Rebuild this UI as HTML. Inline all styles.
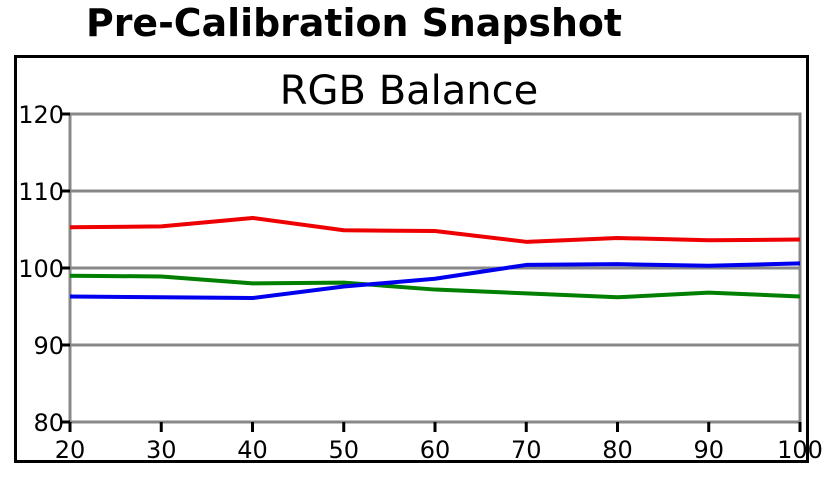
<!DOCTYPE html>
<html><head><meta charset="utf-8"><style>
body{margin:0;background:#fff;width:826px;height:479px;overflow:hidden}
svg text{font-family:"DejaVu Sans","Liberation Sans",sans-serif}
</style></head><body>
<svg width="826" height="479">
<text x="86" y="36" font-size="38" font-weight="bold" textLength="536" lengthAdjust="spacingAndGlyphs">Pre-Calibration Snapshot</text>
<rect x="15.5" y="56.5" width="792" height="405" fill="none" stroke="#000" stroke-width="3"/>
<text x="409" y="104" font-size="40" text-anchor="middle">RGB Balance</text>
<g id="grid"></g><g id="axes"></g><g id="series"></g>
</svg>
<script>
const xCats=[20,30,40,50,60,70,80,90,100];
const yTicks=[80,90,100,110,120];
const redVals=[105.3,105.4,106.5,104.9,104.8,103.4,103.9,103.6,103.7];
const greenVals=[99,98.9,98,98.1,97.2,96.7,96.2,96.8,96.3];
const blueVals=[96.3,96.2,96.1,97.6,98.6,100.4,100.5,100.3,100.6];
const NS="http://www.w3.org/2000/svg";
const X0=70,X1=800,Y0=422,Y1=114;
function sx(v){return X0+(v-20)/(100-20)*(X1-X0);}
function sy(v){return Y0-(v-80)/(120-80)*(Y0-Y1);}
function mk(t,a,p){const e=document.createElementNS(NS,t);for(const k in a)e.setAttribute(k,a[k]);p.appendChild(e);return e;}
const grid=document.getElementById('grid'),axes=document.getElementById('axes'),ser=document.getElementById('series');
yTicks.forEach(v=>{
 const l=mk('line',{x1:X0,x2:X1,y1:sy(v),y2:sy(v),stroke:'#888','stroke-width':3},grid);
 
 
 const tk=mk('line',{x1:X0-8,x2:X0,y1:sy(v),y2:sy(v),stroke:'#000','stroke-width':3},axes);
 
 
 const t=mk('text',{x:X0-6,y:sy(v)+9,'font-size':24,'text-anchor':'end'},axes);
 t.textContent=v;
 
 
});
const b=mk('rect',{x:X0,y:Y1,width:X1-X0,height:Y0-Y1,fill:'none',stroke:'#888','stroke-width':3},grid);


xCats.forEach(v=>{
 const tk=mk('line',{x1:sx(v),x2:sx(v),y1:Y0,y2:Y0+10,stroke:'#000','stroke-width':3},axes);
 
 
 const t=mk('text',{x:sx(v),y:Y0+36,'font-size':24,'text-anchor':'middle'},axes);
 t.textContent=v;
 
 
});
[[greenVals,'#007f00','green'],[blueVals,'#0000ee','blue'],[redVals,'#ee0000','red']].forEach(([vals,c,n])=>{
 const p=mk('polyline',{points:vals.map((v,i)=>sx(xCats[i])+','+sy(v)).join(' '),fill:'none',stroke:c,'stroke-width':4,'stroke-linejoin':'round'},ser);
 
 
});
</script>
</body></html>
